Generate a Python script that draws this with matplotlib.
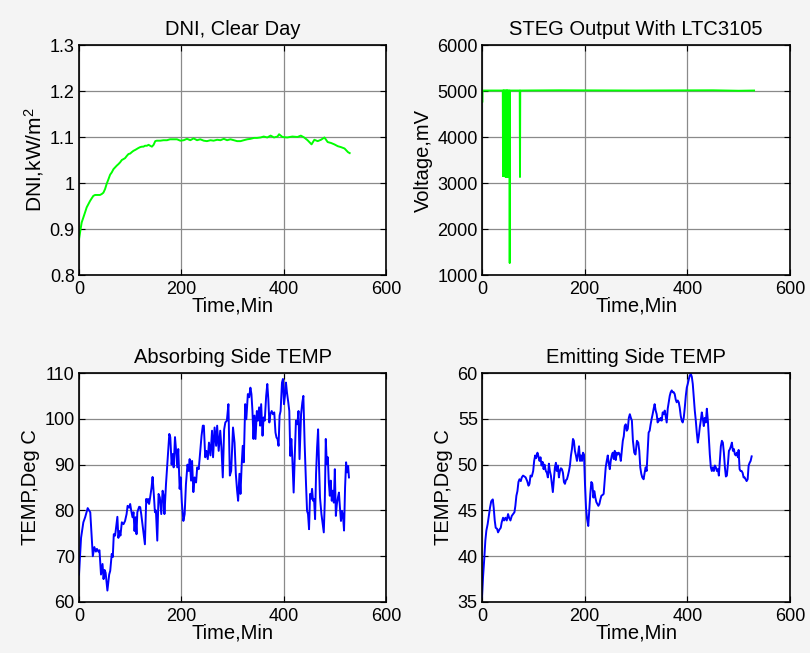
import matplotlib
matplotlib.use("Agg")
import matplotlib.pyplot as plt
import numpy as np

plt.rcParams['font.family'] = ['Liberation Sans', 'DejaVu Sans']
plt.rcParams['mathtext.fontset'] = 'custom'
plt.rcParams['mathtext.rm'] = 'Liberation Sans'
plt.rcParams['mathtext.it'] = 'Liberation Sans'

# --- DNI, clear day (kW/m^2) ---
dni_t = [0, 2, 5.2, 8.5, 11.8, 15, 18.3, 21.6, 25, 28, 31.4, 34.6, 38, 41, 44.4, 47.7,
         51, 54, 57.5, 60.8, 64, 67.3, 70.6, 74, 77, 80.4, 83.7, 87, 90, 93.5, 96.7,
         100, 103, 106.5, 110, 113, 116, 119.6, 123, 126, 129, 132.7, 136, 139, 142.5,
         145.8, 149, 152, 159, 165, 172, 178, 185, 191.5, 198, 204.6, 211, 217.6, 224,
         230.7, 237, 243.8, 250, 257, 263, 270, 276.5, 283, 289.5, 296, 302.6, 309,
         315.7, 322, 328.8, 335, 342, 348, 355, 361, 368, 374.5, 381, 388, 391, 397.6,
         407, 417, 427, 433.5, 440, 446.7, 454.5, 460, 466.5, 473, 479.7, 486, 492.6,
         499, 505.8, 512, 519, 525.8, 529]
dni_v = [0.878, 0.892, 0.914, 0.925, 0.936, 0.947, 0.954, 0.961, 0.967, 0.972, 0.974,
         0.974, 0.974, 0.974, 0.976, 0.979, 0.987, 0.998, 1.008, 1.018, 1.023, 1.030,
         1.034, 1.038, 1.041, 1.045, 1.050, 1.052, 1.054, 1.059, 1.063, 1.064, 1.067,
         1.070, 1.072, 1.074, 1.076, 1.078, 1.079, 1.079, 1.081, 1.081, 1.083, 1.081,
         1.079, 1.083, 1.091, 1.092, 1.092, 1.093, 1.093, 1.095, 1.095, 1.095, 1.092,
         1.093, 1.096, 1.093, 1.097, 1.093, 1.095, 1.092, 1.091, 1.093, 1.092, 1.094,
         1.093, 1.096, 1.093, 1.095, 1.093, 1.091, 1.091, 1.093, 1.095, 1.096, 1.098,
         1.098, 1.099, 1.101, 1.099, 1.103, 1.099, 1.101, 1.106, 1.100, 1.099, 1.101,
         1.100, 1.103, 1.099, 1.093, 1.084, 1.094, 1.091, 1.094, 1.099, 1.089, 1.087,
         1.084, 1.080, 1.078, 1.075, 1.067, 1.065]

# --- STEG output with LTC3105 (mV) ---
steg_t = [0, 0.8, 1, 40.5, 41, 41.5, 42, 42.5, 43, 43.5, 44, 44.5, 45.5, 46, 46.5,
          47, 47.5, 48, 48.5, 49, 49.5, 50, 50.5, 51, 51.5, 52, 53.5, 54, 54.5, 55,
          73.5, 74, 74.5, 75, 150, 300, 450, 500, 530]
steg_v = [4760, 4760, 5010, 5010, 3150, 5010, 3150, 5010, 3150, 5010, 3150, 5010,
          5010, 3130, 5010, 3130, 5010, 3130, 5010, 3130, 5010, 3130, 5010, 3130,
          5010, 5010, 5010, 1260, 5010, 5010, 5010, 3130, 5010, 5010, 5015, 5010,
          5015, 5005, 5010]

# --- Absorbing side temperature (deg C) ---
abs_t = [0, 4, 8.5, 12, 17, 19.6, 22, 25, 27, 30, 33, 35, 38, 40, 43, 46, 48, 50, 52,
         55.5, 59, 61, 64, 66, 68, 70.6, 73, 75, 77, 79, 81, 83.7, 87, 90, 93, 95, 98,
         100, 102, 104.6, 106.5, 108.5, 110.5, 112.4, 114, 117.6, 119.6, 121.6, 124,
         126.8, 128.8, 131.4, 133, 135, 137, 139, 141.8, 143.8, 146.4, 148.4, 150.3,
         153, 155.5, 158, 160.8, 163.4, 165.4, 167, 170, 173, 176.5, 178.4, 181, 183,
         185, 187.6, 189.5, 192, 194, 196.7, 198.7, 201, 204, 206.5, 209, 212, 214.4,
         216.3, 219, 221, 223.5, 226, 228.8, 231, 234, 237, 239.5, 242, 244, 246.7,
         249, 251.7, 254, 257, 260, 262, 265, 268, 270, 273, 276, 278.4, 281, 283.7,
         286, 289, 292, 294.8, 297.4, 301, 304, 306.5, 309, 311, 313.6, 315.6, 318,
         320, 322, 324.8, 327, 330, 332.6, 335, 337, 339, 341, 343, 345, 347.6, 349.6,
         352, 354, 356, 358.7, 360.7, 363, 365.8, 368, 370, 372, 374, 376.6, 379,
         381.6, 384, 386, 388, 390, 392, 394, 396.7, 398.6, 400.6, 402.5, 404.5,
         406.5, 409, 411, 413, 415, 417, 419.5, 421.6, 424, 426.7, 429, 431, 434,
         436.5, 438.5, 441, 443.7, 445.7, 447.6, 449.6, 451.6, 453.5, 455.5, 457.4,
         459.4, 461.4, 463.3, 465.3, 467.3, 469.2, 471, 473.8, 476.4, 478.4, 480.4,
         482.3, 484.3, 486.3, 488.2, 490.2, 492, 494, 496, 498, 500, 502, 504, 506,
         508, 510, 512, 514, 516, 518, 520, 522, 524, 526, 527.6]
abs_v = [66, 74, 77.4, 78.5, 80.5, 80, 79.6, 74, 70, 72, 71, 71.6, 71, 71.3, 66, 68.3,
         65, 67, 66.4, 62.5, 66, 66.8, 70.5, 69.8, 74.8, 74.5, 76.7, 78.6, 74, 75.5,
         74.5, 77.4, 77, 77.7, 79.2, 81, 80.6, 81.4, 80, 78.5, 79.6, 75.5, 78.5, 74.8,
         79.6, 80.8, 80.7, 79.2, 77, 74.5, 72.6, 82.5, 81.7, 82.5, 81.4, 82.8, 85,
         87.3, 83.2, 79.6, 80, 73.4, 83.6, 82.8, 79.2, 84.3, 83.2, 79.2, 85.7, 90.8,
         96.7, 96, 90, 92.3, 89.4, 96, 93.4, 89.4, 93.4, 84.7, 87.2, 81.7, 77.7, 79.2,
         85.7, 90, 88.6, 91.2, 86.5, 90.8, 84, 87.2, 86.1, 89.4, 89, 93, 96.3, 98.5,
         98.5, 91.6, 93, 91.2, 94.8, 92, 97.4, 91.6, 98.1, 94.1, 98.5, 93, 97.4, 93.7,
         87.2, 97.7, 99.2, 99.6, 103.2, 87.6, 88.6, 98.1, 94.8, 88, 84.3, 82.1, 88,
         83.6, 90.1, 94.1, 90.5, 103.2, 99.9, 105.4, 104.7, 106.8, 105.4, 101.7, 95.6,
         100.7, 95.6, 101.7, 99.6, 102.5, 98.5, 103.2, 96.3, 100.3, 99.6, 105, 107.6,
         104.3, 99.2, 101, 101.7, 101, 101.4, 97, 95.9, 95.6, 94.1, 100.7, 101.7, 107.9,
         108.7, 103.2, 105, 107.9, 105.7, 103.6, 101.7, 91.9, 95.6, 91.2, 83.9, 91.6,
         99.6, 98.8, 101.7, 91.2, 101, 103.6, 105, 94.5, 85.7, 79.9, 79.2, 75.9, 83.6,
         82.5, 84.7, 82.1, 82.5, 78.1, 88, 93.7, 97.7, 89.4, 82.8, 79.2, 77, 75.2,
         82.1, 95.6, 90.1, 91.6, 86.1, 83.2, 86.5, 82.1, 84.3, 81.7, 89, 78.8, 81.4,
         82.8, 83.9, 80.6, 77.7, 79.9, 78.8, 75.6, 85, 90.5, 88.3, 89.7, 87.2]

# --- Emitting side temperature (deg C) ---
emit_t = [0, 2, 4.6, 6.5, 8.5, 11, 13.7, 15.6, 18, 21, 22.8, 24.8, 26.7, 29.3, 31.3,
          33.9, 36.5, 38.4, 41, 43, 45.6, 48.2, 50.8, 52.8, 55.4, 58, 60.6, 63.2, 65,
          67, 69, 71, 73, 75.6, 77.5, 80, 82.7, 85, 88, 90.6, 92.5, 94.5, 97, 99.7,
          101.6, 103.6, 105.5, 108, 110, 112, 114, 116, 118, 120, 121.8, 124.4, 126.4,
          128.3, 130.3, 132.2, 134.2, 136, 138, 140, 142, 144, 145.7, 147.9, 149.8,
          151.8, 153.7, 155.7, 157.7, 159.6, 161.6, 163.5, 165.5, 167.4, 169.4, 171.3,
          173.3, 175.2, 177.2, 179, 181, 183, 185, 187, 189, 191, 192.8, 194.8, 196.7,
          198.7, 200.6, 202.6, 204.6, 207, 209, 211, 213, 215, 217, 219, 220.8, 222.8,
          224.8, 226.7, 228.7, 230.6, 232.6, 235.2, 237, 239, 241, 243, 245, 247, 249,
          250.8, 252.8, 254.7, 256.7, 258.6, 260.6, 262.5, 264.5, 266.4, 268.4, 270.4,
          272.3, 274.3, 276.2, 278, 280, 282, 284, 286, 288, 290, 292, 294, 296.6, 299,
          301.8, 304.4, 306.4, 308.3, 310.3, 312.2, 314.8, 316.8, 318.8, 320.7, 322.7,
          324.6, 326.6, 328.5, 330.5, 332.4, 334.4, 336.3, 338.3, 340.3, 342.2, 344.2,
          346, 348, 350, 352, 354, 356, 357.8, 359.8, 361.8, 363.7, 365.7, 367.6,
          369.6, 371.5, 373.5, 375.4, 377.4, 379.3, 381.3, 383.3, 385.2, 387.2, 389.1,
          391, 393, 395, 397, 398.9, 400.8, 402.8, 404.7, 406.7, 408.7, 410.6, 412.6,
          414.5, 416.5, 418.4, 420.4, 422.3, 424.3, 426.2, 428.2, 430.2, 432.1, 434,
          436, 438, 440, 441.9, 443.8, 445.8, 447.7, 449.7, 451.7, 453.6, 455.6, 457.5,
          459.5, 461.4, 463.4, 465.3, 467.3, 469.2, 471.2, 473.2, 475.1, 477, 479, 481,
          483, 484.9, 486.8, 488.8, 490.7, 492.7, 494.6, 496.6, 498.6, 499.9, 501.8,
          503.8, 505.7, 507.7, 509.6, 511.6, 513.5, 515.5, 517.5, 519.4, 521.4, 523.3,
          525.3]
emit_v = [35.5, 37.7, 39.9, 41.7, 42.8, 43.5, 44.6, 45.3, 46, 46.2, 45.3, 43.9, 43.1,
          43, 42.6, 42.9, 43.1, 43.7, 44.2, 43.9, 44.2, 43.9, 44.6, 44.2, 43.9, 44.4,
          44.6, 44.8, 45.5, 46.6, 47.1, 48.1, 48.4, 48.2, 48.6, 48.8, 48.7, 48.6, 48.2,
          47.7, 47.9, 48.8, 48.7, 49.3, 50.4, 51, 50.7, 51.3, 50.9, 50.4, 50.8, 49.9,
          50.3, 49.5, 50, 49.3, 49.1, 48.6, 50.1, 49.3, 48.8, 47.9, 47, 48.4, 49.7,
          50.2, 49.3, 49.9, 48.6, 49.3, 49.6, 49.5, 49.1, 48.1, 47.9, 48.3, 48.4, 48.8,
          49.3, 49.9, 51, 51.7, 52.8, 52.6, 51.5, 51, 50.4, 51.1, 52, 50.4, 51, 50.4,
          51.3, 51.1, 47.9, 45.3, 44.1, 43.3, 45, 46.8, 48.1, 47.9, 46.4, 47.1, 46.4,
          45.9, 45.7, 45.5, 45.7, 46.2, 46.6, 46.7, 46.8, 48.2, 49.7, 50.4, 51, 50.1,
          49.5, 50.4, 51, 51.3, 50.6, 51.5, 50.5, 51.3, 51.1, 51.3, 51.1, 50.4, 51.5,
          52.6, 53.1, 54.2, 54.4, 53.7, 53.9, 55.1, 55.5, 55.1, 54.8, 52.6, 51.3, 51.1,
          52.6, 52.4, 51.5, 49.7, 49, 48.6, 48.4, 49.1, 49.7, 49.3, 51.5, 53.5, 53.7,
          54.4, 55, 55.5, 56.1, 56.6, 55.9, 55.5, 54.6, 55, 54.8, 55.1, 54.8, 55.7,
          55.5, 55.9, 55.3, 54.6, 56.1, 56.8, 57.5, 57.9, 58.1, 57.9, 57.9, 57.7, 57.1,
          56.8, 57, 56.8, 56.2, 55.3, 54.8, 54.6, 55.1, 56.2, 57.5, 58.4, 58.8, 59.3,
          59.7, 59.9, 59.6, 58.8, 57.3, 55.9, 54.8, 53.5, 52.4, 53.1, 54.1, 54.8, 55.7,
          55, 54.2, 55.1, 54.6, 56.1, 54.8, 53, 51.1, 49.7, 49.3, 49.7, 49.3, 49.9,
          49.7, 49.3, 49.5, 48.8, 50.4, 52, 52.6, 52.4, 51.3, 49.7, 48.7, 48.8, 50,
          51.5, 51.7, 52, 52.4, 51.5, 51.7, 51.1, 51, 51.3, 50.8, 51.6, 49.5, 49.3,
          49.3, 49.1, 48.6, 48.6, 48.4, 48.2, 48.4, 49.9, 50.2, 50.4, 50.9]

fig = plt.figure(figsize=(8.10, 6.53), dpi=100)
fig.patch.set_facecolor('#f4f4f4')

W, H = 810.0, 653.0
boxes = [(79, 45, 386, 275), (482, 45, 790, 275),
         (79, 373, 386, 602), (482, 373, 790, 602)]


def make_ax(box):
    x0, y0, x1, y1 = box
    ax = fig.add_axes([x0 / W, 1 - y1 / H, (x1 - x0) / W, (y1 - y0) / H])
    ax.set_facecolor('white')
    ax.grid(True, color='#8a8a8a', linewidth=0.9)
    ax.set_axisbelow(True)
    ax.tick_params(direction='in', top=True, right=True, length=4, width=0.8,
                   labelsize=13, colors='black')
    ax.tick_params(axis='y', pad=3)
    ax.tick_params(axis='x', pad=4)
    for s in ax.spines.values():
        s.set_linewidth(1.2)
        s.set_color('black')
    ax.set_xlim(0, 600)
    ax.set_xticks([0, 200, 400, 600])
    ax.set_xlabel('Time,Min', fontsize=14.5, labelpad=-1)
    return ax


ax1 = make_ax(boxes[0])
ax1.plot(dni_t, dni_v, color='#00ff00', lw=1.4)
ax1.set_ylim(0.8, 1.3)
ax1.set_yticks([0.8, 0.9, 1.0, 1.1, 1.2, 1.3])
ax1.set_yticklabels(['0.8', '0.9', '1', '1.1', '1.2', '1.3'])
ax1.set_ylabel('DNI,kW/m$^{2}$', fontsize=15, labelpad=3)
ax1.set_title('DNI, Clear Day', fontsize=14.5, pad=7)

ax2 = make_ax(boxes[1])
ax2.plot(steg_t, steg_v, color='#00ff00', lw=1.4)
ax2.set_ylim(1000, 6000)
ax2.set_yticks([1000, 2000, 3000, 4000, 5000, 6000])
ax2.set_ylabel('Voltage,mV', fontsize=14.5, labelpad=3)
ax2.set_title('STEG Output With LTC3105', fontsize=14.5, pad=7)

ax3 = make_ax(boxes[2])
ax3.plot(abs_t, abs_v, color='#0000ff', lw=1.4)
ax3.set_ylim(60, 110)
ax3.set_yticks([60, 70, 80, 90, 100, 110])
ax3.set_ylabel('TEMP,Deg C', fontsize=14.5, labelpad=3)
ax3.set_title('Absorbing Side TEMP', fontsize=14.5, pad=7)

ax4 = make_ax(boxes[3])
ax4.plot(emit_t, emit_v, color='#0000ff', lw=1.4)
ax4.set_ylim(35, 60)
ax4.set_yticks([35, 40, 45, 50, 55, 60])
ax4.set_ylabel('TEMP,Deg C', fontsize=14.5, labelpad=3)
ax4.set_title('Emitting Side TEMP', fontsize=14.5, pad=7)

fig.savefig('out.png', dpi=100, facecolor=fig.get_facecolor())
